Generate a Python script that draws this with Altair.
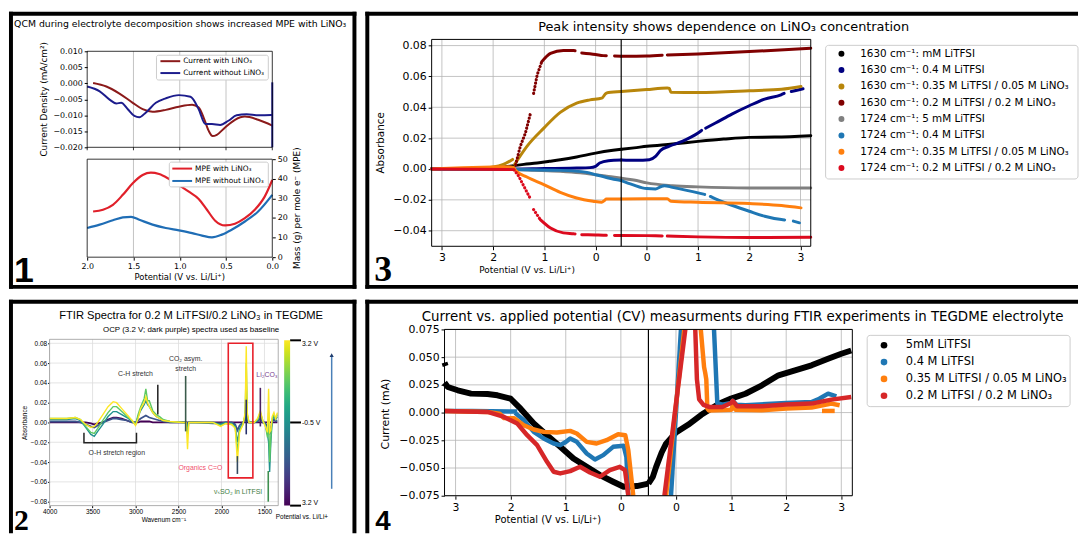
import altair as alt
import pandas as pd

FONT = "DejaVu Sans"
SANS2 = "Liberation Sans, DejaVu Sans"
SERIF = "Liberation Serif, DejaVu Serif"

# ======================= Panel 1 data =======================
P1_X_TICKS = [0.0, 0.5, 1.0, 1.5, 2.0]
P1_GRID = [0.5, 1.0, 1.5]
P1_CUR_TICKS = [-0.020, -0.015, -0.010, -0.005, 0.000, 0.005, 0.010]
P1_MPE_TICKS = [0, 10, 20, 30, 40, 50]
P1_CUR_LABELS = ["Current with LiNO₃", "Current without LiNO₃"]
P1_CUR_COLORS = ["#8b1a1a", "#1c1c8c"]
P1_MPE_LABELS = ["MPE with LiNO₃", "MPE without LiNO₃"]
P1_MPE_COLORS = ["#e0202a", "#1f6db5"]
CUR_WITH = [(1.936, 0.0001), (1.793, -0.001), (1.651, -0.0032), (1.508, -0.0061), (1.401, -0.0081),
            (1.294, -0.0089), (1.151, -0.0083), (1.009, -0.0073), (0.866, -0.0067), (0.795, -0.0076),
            (0.742, -0.0107), (0.688, -0.0148), (0.645, -0.0165), (0.599, -0.0161), (0.510, -0.0138),
            (0.403, -0.0114), (0.296, -0.0104), (0.153, -0.0114), (0.0, -0.0132)]
CUR_WITHOUT = [(2.0, -0.001), (1.865, -0.0025), (1.758, -0.0051), (1.686, -0.0063), (1.633, -0.0061),
               (1.561, -0.0081), (1.490, -0.0102), (1.437, -0.0106), (1.365, -0.0091), (1.258, -0.0061),
               (1.151, -0.0047), (1.009, -0.0037), (0.884, -0.0042), (0.795, -0.0081), (0.724, -0.0127),
               (0.652, -0.0127), (0.563, -0.0130), (0.474, -0.0117), (0.385, -0.0100), (0.278, -0.0097),
               (0.153, -0.0100), (0.011, -0.0099), (0.0, -0.0099)]
CUR_WITHOUT_EDGE = [(0.0, 0.0003), (0.0, -0.0200)]
MPE_WITH = [(1.936, 23.3), (1.829, 24.2), (1.722, 26.7), (1.615, 31.8), (1.508, 37.7), (1.401, 41.9),
            (1.312, 43.1), (1.223, 42.4), (1.116, 39.9), (1.009, 36.8), (0.902, 33.4), (0.795, 29.7),
            (0.706, 24.2), (0.617, 18.6), (0.510, 16.2), (0.403, 17.1), (0.296, 19.9), (0.189, 24.2),
            (0.082, 30.9), (0.0, 39.4)]
MPE_WITHOUT = [(2.0, 14.9), (1.865, 16.6), (1.722, 18.8), (1.615, 20.3), (1.526, 20.6), (1.437, 19.1),
               (1.294, 16.6), (1.151, 14.9), (1.009, 13.7), (0.866, 12.3), (0.759, 11.0), (0.652, 10.1),
               (0.545, 11.5), (0.439, 14.0), (0.296, 18.2), (0.153, 23.3), (0.0, 31.8)]

# ======================= Panel 2 data =======================
P2_W = [4000, 3800, 3700, 3640, 3580, 3520, 3480, 3440, 3380, 3320,
        3260, 3220, 3160, 3100, 3040, 3000, 2970, 2940, 2900, 2880,
        2860, 2840, 2800, 2760, 2720, 2680, 2600, 2450, 2410, 2395,
        2380, 2300, 2100, 2010, 1950, 1880, 1840, 1815, 1790, 1750,
        1725, 1712, 1700, 1680, 1620, 1580, 1548, 1520, 1490, 1465,
        1452, 1440, 1426, 1410, 1390, 1370, 1350]
P2_SPEC_T = [0.0, 0.25, 0.5, 0.75, 1.0]
P2_SPECTRA = [
    [0.000, 0.000, 0.000, 0.000, 0.000, -0.001, -0.002, -0.001, 0.000, 0.003,
     0.005, 0.005, 0.004, 0.002, 0.000, 0.000, 0.000, 0.001, 0.001, 0.001,
     0.001, 0.001, 0.000, 0.000, 0.000, 0.000, 0.000, 0.000, 0.000, 0.000,
     0.000, 0.000, 0.000, 0.000, 0.000, 0.000, 0.000, 0.000, 0.000, 0.000,
     0.000, 0.000, 0.000, 0.000, 0.000, 0.000, 0.000, 0.000, 0.000, 0.000,
     0.000, 0.000, 0.000, 0.000, 0.000, 0.000, 0.000],
    [0.001, 0.001, 0.001, 0.000, -0.002, -0.004, -0.005, -0.003, 0.000, 0.002,
     0.004, 0.004, 0.003, 0.002, 0.000, 0.000, 0.002, 0.004, 0.006, 0.007,
     0.006, 0.005, 0.004, 0.003, 0.002, 0.001, 0.000, 0.000, 0.000, -0.001,
     0.000, 0.000, -0.001, -0.001, 0.000, 0.000, -0.002, -0.008, -0.003, 0.000,
     0.002, 0.018, 0.002, 0.000, 0.000, 0.001, 0.004, 0.000, -0.001, -0.004,
     -0.006, -0.012, -0.006, 0.001, 0.003, 0.001, 0.002],
    [0.003, 0.003, 0.004, 0.002, -0.005, -0.012, -0.014, -0.009, -0.002, 0.006,
     0.011, 0.011, 0.008, 0.005, 0.001, -0.002, 0.006, 0.012, 0.018, 0.022,
     0.018, 0.016, 0.010, 0.006, 0.004, 0.002, 0.001, 0.000, 0.000, -0.004,
     0.000, 0.000, 0.000, -0.002, 0.000, -0.001, -0.004, -0.020, -0.006, -0.001,
     0.006, 0.040, 0.005, 0.000, 0.000, 0.002, 0.008, 0.001, -0.002, -0.012,
     -0.020, -0.050, -0.020, 0.002, 0.006, 0.003, 0.006],
    [0.004, 0.004, 0.005, 0.003, -0.004, -0.010, -0.011, -0.006, 0.002, 0.010,
     0.016, 0.016, 0.011, 0.006, 0.002, -0.002, 0.008, 0.016, 0.024, 0.034,
     0.022, 0.022, 0.012, 0.008, 0.006, 0.003, 0.001, 0.000, 0.000, -0.012,
     0.000, 0.000, 0.000, -0.003, -0.001, -0.002, -0.005, -0.030, -0.008, -0.002,
     0.008, 0.060, 0.008, 0.000, 0.000, 0.003, 0.010, 0.002, -0.003, -0.015,
     0.010, -0.040, -0.015, 0.004, 0.008, 0.004, 0.008],
    [0.004, 0.004, 0.005, 0.003, -0.002, -0.005, -0.004, 0.000, 0.008, 0.016,
     0.021, 0.020, 0.014, 0.008, 0.002, -0.003, 0.004, 0.014, 0.020, 0.026,
     0.020, 0.016, 0.010, 0.006, 0.004, 0.002, 0.001, 0.000, 0.000, -0.027,
     0.000, 0.000, 0.000, -0.004, -0.001, -0.002, -0.006, -0.040, -0.010, -0.002,
     0.010, 0.077, 0.010, 0.000, 0.000, 0.004, 0.012, 0.002, -0.004, -0.010,
     0.034, -0.010, -0.008, 0.006, 0.010, 0.004, 0.010],
]
P2_SPIKES = [(2741, 0.008, 0.038, "#2b2b2b"), (2417, -0.009, 0.047, "#3b5b4b"),
             (1548, -0.004, 0.035, "#4a2060"), (1712, -0.012, 0.023, "#262f6b"),
             (1815, -0.052, -0.034, "#34495e"), (1456, -0.080, -0.049, "#3f8f4f")]
P2_NOTES = [("C-H stretch", 3001, 0.049, "#333333"), ("CO₂ asym.", 2417, 0.0643, "#333333"),
            ("stretch", 2417, 0.0543, "#333333"), ("Li₂CO₃", 1471, 0.048, "#7a3e8e"),
            ("O-H stretch region", 3218, -0.0305, "#333333"), ("Organics C=O", 2246, -0.0456, "#f0506e"),
            ("νₛSO₂ in LiTFSI", 1807, -0.070, "#3c7a3c")]
P2_BRACKET = [(3600, -0.0104), (3600, -0.0204), (2989, -0.0204), (2989, -0.0104)]
P2_BOX = (1921, 1635, -0.056, 0.080)
P2_X_TICKS = [1500, 2000, 2500, 3000, 3500, 4000]
P2_Y_TICKS = [-0.08, -0.06, -0.04, -0.02, 0.0, 0.02, 0.04, 0.06, 0.08]

# ======================= Panel 3 data =======================
SWEEP_TICKS = [0.2, 1.2, 2.2, 3.2, 4.2, 5.2, 6.2, 7.2]
SWEEP_LABELS = "datum.value < 3.7 ? format(3.2 - datum.value, '.0f') : format(datum.value - 4.2, '.0f')"
P3_Y_TICKS = [-0.04, -0.02, 0.0, 0.02, 0.04, 0.06, 0.08]
P3_LABELS = ["1630 cm⁻¹: mM LiTFSI", "1630 cm⁻¹: 0.4 M LiTFSI",
             "1630 cm⁻¹: 0.35 M LiTFSI / 0.05 M LiNO₃", "1630 cm⁻¹: 0.2 M LiTFSI / 0.2 M LiNO₃",
             "1724 cm⁻¹: 5 mM LiTFSI", "1724 cm⁻¹: 0.4 M LiTFSI",
             "1724 cm⁻¹: 0.35 M LiTFSI / 0.05 M LiNO₃", "1724 cm⁻¹: 0.2 M LiTFSI / 0.2 M LiNO₃"]
P3_COLORS = ["#000000", "#000080", "#b8860b", "#800000", "#808080", "#1f77b4", "#ff7f0e", "#dc0a1e"]
P3_SERIES = [
    [("c", "solid", [(3.2, 0.0), (2.4, 0.0003), (2.0, 0.0006), (1.75, 0.0015), (1.6, 0.0022), (1.4, 0.003),
                     (1.14, 0.0039), (0.9, 0.005), (0.69, 0.006), (0.37, 0.0078), (0.0, 0.0103),
                     (-0.34, 0.0121), (-0.5, 0.0128)]),
     ("a", "solid", [(-0.5, 0.0128), (-0.25, 0.0137), (0.0, 0.0147), (0.5, 0.0162), (1.0, 0.0179),
                     (1.5, 0.0194), (2.0, 0.0205), (2.5, 0.0207), (3.2, 0.0216)])],
    [("c", "solid", [(3.2, 0.0), (1.6, 0.0), (1.0, 0.0003), (0.5, 0.0005), (0.37, 0.0006), (0.11, 0.0009),
                     (0.0, 0.0017), (-0.08, 0.0039), (-0.25, 0.0054), (-0.5, 0.0058)]),
     ("a", "solid", [(-0.5, 0.0058), (-0.2, 0.0056), (0.05, 0.006), (0.17, 0.0082), (0.27, 0.0121),
                     (0.43, 0.0147), (0.69, 0.0179), (1.0, 0.0233), (1.07, 0.025)]),
     ("a", "solid", [(1.15, 0.0265), (1.34, 0.0298), (1.66, 0.0356), (2.0, 0.041), (2.3, 0.0453),
                     (2.62, 0.0481), (2.68, 0.049)]),
     ("a", "solid", [(2.82, 0.0502), (3.01, 0.0517), (3.05, 0.052)])],
    [("c", "solid", [(3.2, 0.0), (2.3, 0.0005), (2.0, 0.0013), (1.8, 0.003), (1.62, 0.0062)]),
     ("c", "solid", [(1.58, 0.003), (1.34, 0.0147), (1.01, 0.0265), (0.69, 0.0367), (0.37, 0.0427),
                     (0.11, 0.0448), (-0.12, 0.0459), (-0.2, 0.049), (-0.25, 0.0496), (-0.5, 0.0502)]),
     ("a", "solid", [(-0.5, 0.0502), (0.0, 0.0515), (0.4, 0.0525), (0.44, 0.0522), (0.47, 0.0498),
                     (1.0, 0.0496), (2.0, 0.0507), (2.63, 0.0517), (3.01, 0.0535)])],
    [("c", "solid", [(3.2, 0.0), (1.6, 0.0)]),
     ("c", "dot", [(1.56, 0.0028), (1.47, 0.0147), (1.37, 0.0233), (1.27, 0.0362)]),
     ("c", "dot", [(1.21, 0.049), (1.14, 0.061), (1.05, 0.0696)]),
     ("c", "solid", [(1.05, 0.0696), (0.88, 0.075), (0.63, 0.0768), (0.43, 0.0768), (0.4, 0.0767)]),
     ("c", "solid", [(0.27, 0.0752), (0.0, 0.0742), (-0.15, 0.0735), (-0.21, 0.0734)]),
     ("c", "solid", [(-0.37, 0.0733), (-0.5, 0.0731)]),
     ("a", "solid", [(-0.5, 0.0731), (0.0, 0.0733), (0.3, 0.0738)]),
     ("a", "solid", [(0.4, 0.0739), (1.0, 0.0746), (2.0, 0.0761), (3.2, 0.0783)])],
    [("c", "solid", [(3.2, 0.0), (1.6, -0.0003), (1.2, -0.0008), (0.69, -0.0015), (0.3, -0.0025),
                     (0.0, -0.0037), (-0.3, -0.005), (-0.5, -0.006)]),
     ("a", "solid", [(-0.5, -0.006), (-0.2, -0.0075), (0.0, -0.009), (0.5, -0.0108), (1.0, -0.0116),
                     (2.0, -0.0123), (3.2, -0.0123)])],
    [("c", "solid", [(3.2, 0.0), (1.6, -0.0004), (0.69, -0.0009), (0.17, -0.0022), (0.0, -0.0037),
                     (-0.25, -0.0058), (-0.5, -0.0075)]),
     ("a", "solid", [(-0.5, -0.0075), (-0.28, -0.0101), (0.0, -0.0127), (0.17, -0.0129), (0.27, -0.0115),
                     (0.34, -0.0108), (0.5, -0.0119), (1.0, -0.0155), (1.13, -0.0165)]),
     ("a", "solid", [(1.24, -0.0178), (1.34, -0.0194), (1.66, -0.0235), (2.0, -0.0274), (2.3, -0.0306),
                     (2.63, -0.0328), (2.69, -0.033)]),
     ("a", "solid", [(2.86, -0.0338), (2.98, -0.0349)])],
    [("c", "solid", [(3.2, 0.0), (2.6, 0.0008), (2.0, 0.0013), (1.7, 0.0015), (1.6, 0.001), (1.56, -0.001),
                     (1.34, -0.0052), (1.01, -0.0101), (0.69, -0.0151), (0.37, -0.0188), (0.05, -0.0209),
                     (-0.12, -0.0216), (-0.17, -0.0205), (-0.21, -0.0194), (-0.5, -0.0194)]),
     ("a", "solid", [(-0.5, -0.0194), (0.0, -0.0193), (0.4, -0.0193), (0.47, -0.0209), (1.0, -0.0216),
                     (2.0, -0.0224), (2.63, -0.0237), (3.01, -0.0252)])],
    [("c", "solid", [(3.2, 0.0), (1.6, -0.0004)]),
     ("c", "dot", [(1.59, -0.0006), (1.5, -0.0047), (1.4, -0.0112), (1.27, -0.0194)]),
     ("c", "dot", [(1.21, -0.0263), (1.08, -0.0328)]),
     ("c", "solid", [(1.08, -0.0328), (0.88, -0.0382), (0.63, -0.0414), (0.43, -0.042), (0.4, -0.0421)]),
     ("c", "solid", [(0.27, -0.0426), (0.0, -0.0428), (-0.15, -0.0429), (-0.21, -0.043)]),
     ("c", "solid", [(-0.37, -0.0431), (-0.5, -0.0431)]),
     ("a", "solid", [(-0.5, -0.0431), (0.0, -0.0432), (0.3, -0.0434)]),
     ("a", "solid", [(0.4, -0.0435), (1.0, -0.044), (2.0, -0.0444), (3.2, -0.0442)])],
]

# ======================= Panel 4 data =======================
P4_Y_TICKS = [-0.075, -0.05, -0.025, 0.0, 0.025, 0.05, 0.075]
P4_LABELS = ["5mM LiTFSI", "0.4 M LiTFSI", "0.35 M LiTFSI / 0.05 M LiNO₃", "0.2 M LiTFSI / 0.2 M LiNO₃"]
P4_COLORS = ["#000000", "#1f77b4", "#ff7f0e", "#d62728"]
P4_WIDTHS = [6, 4.5, 4.5, 4.5]
P4_SERIES = [
    [("c", [(3.2, 0.045), (3.18, 0.042)]),
     ("c", [(3.2, 0.027), (3.14, 0.0231), (2.96, 0.0201), (2.72, 0.0171), (2.42, 0.0168), (2.24, 0.0156),
            (2.0, 0.0125), (1.82, 0.0035), (1.58, -0.0099), (1.34, -0.0204), (1.10, -0.0309), (0.86, -0.0414),
            (0.62, -0.0489), (0.38, -0.0564), (0.14, -0.0624), (-0.05, -0.0669), (-0.29, -0.0663), (-0.5, -0.064)]),
     ("a", [(-0.5, -0.064), (-0.42, -0.058), (-0.36, -0.049), (-0.26, -0.036), (-0.18, -0.028), (0.0, -0.018),
            (0.22, -0.011), (0.46, -0.002), (0.78, 0.008), (1.0, 0.0126), (1.26, 0.017), (1.56, 0.0246),
            (1.86, 0.0336), (2.16, 0.0381), (2.46, 0.0426), (2.76, 0.0486), (3.0, 0.0531), (3.18, 0.056)])],
    [("c", [(3.2, 0.0015), (2.7, 0.0015), (2.0, 0.0009), (1.88, 0.0009)]),
     ("c", [(1.92, -0.0003), (1.76, -0.0069), (1.58, -0.0174), (1.40, -0.0234), (1.22, -0.0279), (1.10, -0.0294),
            (1.0, -0.0265), (0.92, -0.0234), (0.8, -0.0264), (0.62, -0.0369), (0.47, -0.0423), (0.32, -0.0384),
            (0.14, -0.0309), (-0.05, -0.0300), (-0.1, -0.0400), (-0.135, -0.075)]),
     ("a", [(-0.09, -0.075), (0.09, 0.075)]),
     ("a", [(0.69, 0.075), (0.75, 0.0085), (0.84, 0.0072), (1.0, 0.0087), (1.03, 0.0105), (1.1, 0.007),
            (1.26, 0.0066), (2.0, 0.0087), (2.46, 0.0096), (2.6, 0.0125), (2.76, 0.0171), (2.91, 0.0147)])],
    [("c", [(3.2, 0.0015), (2.42, 0.0006), (2.2, -0.001), (2.12, -0.005), (1.94, -0.005), (1.76, -0.0114),
            (1.58, -0.0153), (1.40, -0.0174), (1.16, -0.018), (0.92, -0.0165), (0.8, -0.0189), (0.62, -0.0264),
            (0.44, -0.0279), (0.26, -0.0249), (0.05, -0.0195), (-0.08, -0.0204), (-0.135, -0.0339),
            (-0.225, -0.075)]),
     ("a", [(-0.18, -0.075), (0.15, 0.075)]),
     ("a", [(0.45, 0.075), (0.51, 0.041), (0.53, 0.036), (0.55, 0.03), (0.57, 0.0036), (0.6, 0.0018),
            (1.0, 0.0025), (1.03, 0.006), (1.08, 0.0025), (1.56, 0.0021), (2.0, 0.0036), (2.46, 0.0045),
            (2.82, 0.0081), (2.97, 0.0066)]),
     ("a", [(2.65, 0.0015), (2.88, 0.0015)])],
    [("c", [(3.2, 0.0015), (2.42, 0.0006), (2.12, -0.0039), (1.88, -0.0099), (1.70, -0.0204), (1.52, -0.0294),
            (1.34, -0.0444), (1.22, -0.0534), (1.10, -0.0549), (0.92, -0.0528), (0.74, -0.0489), (0.56, -0.054),
            (0.38, -0.0579), (0.2, -0.0519), (0.02, -0.0489), (-0.075, -0.0519), (-0.135, -0.075)]),
     ("a", [(-0.21, -0.075), (0.17, 0.075)]),
     ("a", [(0.35, 0.075), (0.38, 0.03), (0.42, 0.012), (0.5, 0.007), (0.6, 0.0051), (0.84, 0.0051),
            (1.0, 0.0087), (1.03, 0.0105), (1.11, 0.0057), (1.56, 0.0057), (2.0, 0.0072), (2.46, 0.0081),
            (2.82, 0.0117), (3.18, 0.0141)])],
]

# ======================= helpers =======================
ONE = pd.DataFrame({"k": [0]})


def vrect(x, x2, y, y2, color="black"):
    return alt.Chart(ONE).mark_rect(color=color).encode(
        x=alt.value(x), x2=alt.value(x2), y=alt.value(y), y2=alt.value(y2))


def vbox(x, x2, y, y2, color="black", width=0.8, fill="transparent", radius=0):
    return alt.Chart(ONE).mark_rect(fill=fill, stroke=color, strokeWidth=width, cornerRadius=radius).encode(
        x=alt.value(x), x2=alt.value(x2), y=alt.value(y), y2=alt.value(y2))


def vtext(txt, x, y, size, font=FONT, weight="normal", align="left", baseline="middle", color="black"):
    return alt.Chart(ONE).mark_text(text=txt, font=font, fontSize=size, fontWeight=weight, align=align,
                                    baseline=baseline, color=color).encode(x=alt.value(x), y=alt.value(y))


def frame(w, h, sides, t=4, right_end=None):
    out = []
    top_w = right_end if right_end is not None else w
    if "t" in sides:
        out.append(vrect(0, top_w, 0, t))
    if "b" in sides:
        out.append(vrect(0, top_w, h - t, h))
    if "l" in sides:
        out.append(vrect(0, t, 0, h))
    if "r" in sides:
        out.append(vrect(w - t, w, 0, h))
    return out


def vgrid(field, values, enc, y0, y1, color="#b4b4b4", width=0.8):
    return alt.Chart(pd.DataFrame({field: values})).mark_rule(color=color, strokeWidth=width).encode(
        x=enc, y=alt.value(y0), y2=alt.value(y1))


def hgrid(field, values, enc, x0, x1, color="#b4b4b4", width=0.8):
    return alt.Chart(pd.DataFrame({field: values})).mark_rule(color=color, strokeWidth=width).encode(
        y=enc, x=alt.value(x0), x2=alt.value(x1))


def dot_legend(labels, colors, box, sym_x, lab_x, y0, dy, size, dot):
    x0, y0b, x1, y1b = box
    out = [vbox(x0, x1, y0b, y1b, color="#cccccc", width=1, fill="white", radius=3)]
    for i, (lab, col) in enumerate(zip(labels, colors)):
        yy = y0 + dy * i
        out.append(alt.Chart(ONE).mark_circle(size=dot, color=col, opacity=1).encode(
            x=alt.value(sym_x), y=alt.value(yy)))
        out.append(vtext(lab, lab_x, yy, size))
    return out


def line_legend(labels, colors, box, sym_x0, sym_x1, lab_x, y0, dy, size):
    x0, y0b, x1, y1b = box
    out = [vbox(x0, x1, y0b, y1b, color="#cccccc", width=1, fill="white", radius=2)]
    for i, (lab, col) in enumerate(zip(labels, colors)):
        yy = y0 + dy * i
        out.append(alt.Chart(ONE).mark_rule(color=col, strokeWidth=2).encode(
            x=alt.value(sym_x0), x2=alt.value(sym_x1), y=alt.value(yy)))
        out.append(vtext(lab, lab_x, yy, size))
    return out


def sweep(d, v):
    return 3.2 - v if d == "c" else v + 4.2


# ======================= Panel 1 (frame 351 x 280) =======================
W1, H1 = 351, 280


def p1_rows(label, segs, yname):
    rows = []
    for gi, pts in enumerate(segs):
        for k, (a, b) in enumerate(pts):
            rows.append({"series": label, "seg": f"{label}|{gi}", "i": k, "V": a, yname: b})
    return rows


cur_df = pd.DataFrame(p1_rows(P1_CUR_LABELS[0], [CUR_WITH], "cur") +
                      p1_rows(P1_CUR_LABELS[1], [CUR_WITHOUT, CUR_WITHOUT_EDGE], "cur"))
mpe_df = pd.DataFrame(p1_rows(P1_MPE_LABELS[0], [MPE_WITH], "mpe") +
                      p1_rows(P1_MPE_LABELS[1], [MPE_WITHOUT], "mpe"))

X1 = alt.X("V:Q", scale=alt.Scale(domain=[0, 2], range=[266, 79], nice=False, zero=False),
           axis=alt.Axis(values=P1_X_TICKS, format=".1f", title="Potential (V vs. Li/Li⁺)", grid=False,
                         domain=False, tickSize=3, labelFontSize=8, titleFontSize=8.5, labelFlush=False,
                         labelPadding=2, titlePadding=3, offset=-32, titleX=172))

p1_top = alt.Chart(cur_df).mark_line(strokeWidth=2, interpolate="monotone").encode(
    x=X1,
    y=alt.Y("cur:Q", scale=alt.Scale(domain=[-0.02, 0.010], range=[137, 40], nice=False, zero=False),
            axis=alt.Axis(orient="left", values=P1_CUR_TICKS, format=".3f", title="Current Density (mA/cm²)",
                          titleY=88, grid=False, domain=False, tickSize=3, labelFontSize=8,
                          titleFontSize=9, titlePadding=4, labelFlush=False, offset=-79)),
    color=alt.Color("series:N", scale=alt.Scale(domain=P1_CUR_LABELS, range=P1_CUR_COLORS), legend=None),
    detail="seg:N", order="i:Q")

p1_bot = alt.Chart(mpe_df).mark_line(strokeWidth=2.2, interpolate="monotone").encode(
    x=X1,
    y=alt.Y("mpe:Q", scale=alt.Scale(domain=[0, 50], range=[248, 149], nice=False, zero=False),
            axis=alt.Axis(orient="right", values=P1_MPE_TICKS, format="d", title="Mass (g) per mole e⁻ (MPE)",
                          titleY=198, titleAngle=270, titleBaseline="top", grid=False, domain=False, tickSize=3,
                          labelFontSize=8, titleFontSize=9, titlePadding=5, labelFlush=False, offset=-85)),
    color=alt.Color("series:N", scale=alt.Scale(domain=P1_MPE_LABELS, range=P1_MPE_COLORS), legend=None),
    detail="seg:N", order="i:Q")

p1_layers = [
    vgrid("V", P1_GRID, X1, 40, 137), vgrid("V", P1_GRID, X1, 149, 248),
    p1_top, p1_bot,
    vbox(79, 266, 40, 137), vbox(79, 266, 149, 248),
    vgrid("V", P1_X_TICKS, X1, 137, 140, color="black"),
] + line_legend(P1_CUR_LABELS, P1_CUR_COLORS, (149, 44, 262, 69), 153, 173, 176, 50, 12, 7.5) \
  + line_legend(P1_MPE_LABELS, P1_MPE_COLORS, (162, 152, 262, 177), 165, 185, 188, 158.5, 12.5, 7.5) + [
    vtext("QCM during electrolyte decomposition shows increased MPE with LiNO₃", 173, 12, 9.4, align="center"),
    vtext("1", 5, 273, 36, font=SANS2, weight="bold", baseline="alphabetic"),
] + frame(W1, H1, "tblr")

p1 = alt.layer(*p1_layers).resolve_scale(y="independent", color="independent").properties(width=W1, height=H1)

# ======================= Panel 2 (frame 351 x 236) =======================
W2, H2 = 351, 236
spec_rows = []
for si, (t, vals) in enumerate(zip(P2_SPEC_T, P2_SPECTRA)):
    for w, v in zip(P2_W, vals):
        spec_rows.append({"spec": si, "t": t, "W": w, "v": v})
spec_df = pd.DataFrame(spec_rows)

X2 = alt.X("W:Q", scale=alt.Scale(domain=[1340, 4000], range=[272, 41], nice=False, zero=False),
           axis=alt.Axis(values=P2_X_TICKS, format="d", title="Wavenum cm⁻¹", labelFontSize=6.5, titleFontSize=6.5,
                         tickSize=2, labelPadding=1, titlePadding=2, grid=False, labelFlush=False, domain=False,
                         labelFont=SANS2, titleFont=SANS2, offset=-28, titleX=156))
Y2 = alt.Y("v:Q", scale=alt.Scale(domain=[-0.084, 0.084], range=[208, 40], nice=False, zero=False),
           axis=alt.Axis(values=P2_Y_TICKS, format=".2f", title="Absorbance", labelFontSize=6.5, titleFontSize=6.5,
                         tickSize=2, labelPadding=1, titlePadding=3, grid=False, domain=False,
                         labelFont=SANS2, titleFont=SANS2, offset=-41, titleY=124, labelFlush=False))
C2 = alt.Color("t:Q", scale=alt.Scale(scheme="viridis", domain=[0, 1]),
               legend=alt.Legend(type="gradient", orient="none", legendX=270, legendY=41, direction="vertical",
                                 padding=0, gradientLength=167, gradientThickness=6, gradientStrokeWidth=0,
                                 values=[0, 0.5, 1], labelExpr="datum.value == 0.5 ? '-0.5 V' : '3.2 V'",
                                 labelFontSize=7, labelFont=SANS2, labelOffset=12,
                                 title="Potential vs. Li/Li+", titleOrient="bottom", titleFontSize=6.5,
                                 titleFont=SANS2, titleFontWeight="normal", titlePadding=9, titleAnchor="middle"))

p2_layers = [vgrid("W", P2_X_TICKS, X2, 40, 208, color="#dddddd"),
             hgrid("v", P2_Y_TICKS, Y2, 41, 272, color="#dddddd")]
for si in range(len(P2_SPECTRA)):
    p2_layers.append(alt.Chart(spec_df[spec_df["spec"] == si]).mark_line(
        strokeWidth=1.8 if si < 2 else 1.4).encode(x=X2, y=Y2, color=C2))
for (w, lo, hi, col) in P2_SPIKES:
    p2_layers.append(alt.Chart(pd.DataFrame({"W": [w], "v": [lo], "v2": [hi]})).mark_rule(
        color=col, strokeWidth=1.6).encode(x=X2, y=Y2, y2="v2:Q"))
bracket_df = pd.DataFrame({"W": [p[0] for p in P2_BRACKET], "v": [p[1] for p in P2_BRACKET],
                           "i": list(range(len(P2_BRACKET)))})
p2_layers.append(alt.Chart(bracket_df).mark_line(color="#222222", strokeWidth=1.5).encode(x=X2, y=Y2, order="i:Q"))
p2_layers.append(alt.Chart(pd.DataFrame({"W": [P2_BOX[0]], "W2": [P2_BOX[1]], "v": [P2_BOX[2]], "v2": [P2_BOX[3]]}))
                 .mark_rect(fill="transparent", stroke="#e8202a", strokeWidth=1.6)
                 .encode(x=X2, x2="W2:Q", y=Y2, y2="v2:Q"))
for (txt, w, v, col) in P2_NOTES:
    p2_layers.append(alt.Chart(pd.DataFrame({"W": [w], "v": [v], "label": [txt]})).mark_text(
        font=SANS2, fontSize=7, color=col).encode(x=X2, y=Y2, text="label:N"))
for yy in [41, 124, 208]:
    p2_layers.append(alt.Chart(ONE).mark_rule(color="black", strokeWidth=2).encode(
        x=alt.value(284), x2=alt.value(295), y=alt.value(yy)))
p2_layers.append(alt.Chart(ONE).mark_rule(color="#4a80b8", strokeWidth=1.5).encode(
    x=alt.value(326), y=alt.value(56), y2=alt.value(191)))
p2_layers.append(alt.Chart(ONE).mark_point(shape="triangle-up", filled=True, size=18, color="#1f3c6e",
                                           opacity=1).encode(x=alt.value(326), y=alt.value(56)))
p2_layers += [
    vbox(41, 272, 40, 208, color="#999999"),
    vtext("FTIR Spectra for 0.2 M LiTFSI/0.2 LiNO₃ in TEGDME", 184, 16, 11.3, font=SANS2, align="center"),
    vtext("OCP (3.2 V; dark purple) spectra used as baseline", 184, 31, 8, font=SANS2, align="center"),
    vtext("2", 5, 233, 30, font=SERIF, weight="bold", baseline="alphabetic"),
] + frame(W2, H2, "tlr")

p2 = alt.layer(*p2_layers).properties(width=W2, height=H2)

# ======================= Panel 3 (frame, visible part 720 x 280) =======================
W3, H3 = 713, 280
rows3 = []
for si, segs in enumerate(P3_SERIES):
    for gi, (d, style, pts) in enumerate(segs):
        for k, (v, a) in enumerate(pts):
            rows3.append({"series": P3_LABELS[si], "seg": f"{si}-{gi}", "style": style, "i": k,
                          "s": sweep(d, v), "A": a})
df3 = pd.DataFrame(rows3)

X3 = alt.X("s:Q", scale=alt.Scale(domain=[0, 7.4], range=[67, 450], nice=False, zero=False),
           axis=alt.Axis(values=SWEEP_TICKS, labelExpr=SWEEP_LABELS, title="Potential (V vs. Li/Li⁺)", titleX=163,
                         titleFontSize=9, labelFontSize=11, tickSize=3.5, labelPadding=2, titlePadding=3,
                         labelFlush=False, domain=False, grid=False, offset=-43))
Y3 = alt.Y("A:Q", scale=alt.Scale(domain=[-0.0501, 0.084], range=[237, 28], nice=False, zero=False),
           axis=alt.Axis(values=P3_Y_TICKS, format=".2f", title="Absorbance", titleFontSize=10.5, labelFontSize=11,
                         tickSize=3.5, titlePadding=7, domain=False, grid=False, labelFlush=False,
                         offset=-67, titleY=132))
C3 = alt.Color("series:N", scale=alt.Scale(domain=P3_LABELS, range=P3_COLORS), legend=None)

p3_layers = [vgrid("s", SWEEP_TICKS, X3, 28, 237), hgrid("A", P3_Y_TICKS, Y3, 67, 450)]
for si, lab in enumerate(P3_LABELS):
    sub = df3[df3["series"] == lab]
    solid = sub[sub["style"] == "solid"]
    p3_layers.append(alt.Chart(solid).mark_line(strokeWidth=3, strokeCap="round", strokeJoin="round",
                                                interpolate="monotone").encode(
        x=X3, y=Y3, color=C3, detail="seg:N", order="i:Q"))
    dots = sub[sub["style"] == "dot"]
    if len(dots):
        p3_layers.append(alt.Chart(dots).mark_line(strokeWidth=3.2, strokeCap="round", strokeDash=[0.1, 3.4],
                                                   color=P3_COLORS[si]).encode(
            x=X3, y=Y3, detail="seg:N", order="i:Q"))
p3_layers.append(alt.Chart(pd.DataFrame({"s": [3.7]})).mark_rule(color="black", strokeWidth=1.2).encode(
    x=X3, y=alt.value(28), y2=alt.value(237)))
p3_layers += [vbox(67, 450, 28, 237, width=1)]
p3_layers += dot_legend(P3_LABELS, P3_COLORS, (465, 34, 720, 169), 481, 500, 42.5, 16.5, 10.5, 36)
p3_layers += [
    vtext("Peak intensity shows dependence on LiNO₃ concentration", 362, 16, 13, align="center"),
    vtext("3", 9, 272, 36, font=SERIF, weight="bold", baseline="alphabetic"),
] + frame(W3, H3, "tbl", right_end=720)

p3 = alt.layer(*p3_layers).properties(width=W3, height=H3)

# ======================= Panel 4 (frame 713 x 236) =======================
W4, H4 = 713, 236
rows4 = []
for si, segs in enumerate(P4_SERIES):
    for gi, (d, pts) in enumerate(segs):
        for k, (v, c) in enumerate(pts):
            rows4.append({"series": P4_LABELS[si], "seg": f"{si}-{gi}", "i": k, "s": sweep(d, v), "I": c})
df4 = pd.DataFrame(rows4)

X4 = alt.X("s:Q", scale=alt.Scale(domain=[0, 7.4], range=[80, 492], nice=False, zero=False),
           axis=alt.Axis(values=SWEEP_TICKS, labelExpr=SWEEP_LABELS, title="Potential (V vs. Li/Li⁺)", titleX=184,
                         titleFontSize=10, labelFontSize=11, tickSize=3.5, labelPadding=2, titlePadding=3,
                         labelFlush=False, domain=False, grid=False, offset=-38))
Y4 = alt.Y("I:Q", scale=alt.Scale(domain=[-0.075, 0.075], range=[198, 30], nice=False, zero=False),
           axis=alt.Axis(values=P4_Y_TICKS, format=".3f", title="Current (mA)", titleFontSize=11, labelFontSize=11,
                         tickSize=3.5, titlePadding=8, domain=False, grid=False, labelFlush=False,
                         offset=-80, titleY=115))
C4 = alt.Color("series:N", scale=alt.Scale(domain=P4_LABELS, range=P4_COLORS), legend=None)

p4_layers = [vgrid("s", SWEEP_TICKS, X4, 30, 198), hgrid("I", P4_Y_TICKS, Y4, 80, 492)]
for si, lab in enumerate(P4_LABELS):
    part = df4[df4["series"] == lab]
    p4_layers.append(alt.Chart(part).mark_line(strokeWidth=P4_WIDTHS[si], strokeJoin="round").encode(
        x=X4, y=Y4, color=C4, detail="seg:N", order="i:Q"))
p4_layers.append(alt.Chart(pd.DataFrame({"s": [3.7]})).mark_rule(color="black", strokeWidth=1.2).encode(
    x=X4, y=alt.value(30), y2=alt.value(198)))
p4_layers += [vbox(80, 492, 30, 198, width=1)]
p4_layers += dot_legend(P4_LABELS, P4_COLORS, (507, 36, 712, 108), 524, 546, 46, 17, 11.5, 45)
p4_layers += [
    vtext("Current vs. applied potential (CV) measurments during FTIR experiments in TEGDME electrolyte",
          57, 17, 13.5),
    vtext("4", 10, 233, 28, font=SANS2, weight="bold", baseline="alphabetic"),
] + frame(W4, H4, "tl", right_end=720)

p4 = alt.layer(*p4_layers).properties(width=W4, height=H4)

# ======================= assemble =======================
chart = alt.vconcat(
    alt.hconcat(p1, p3, spacing=7),
    alt.hconcat(p2, p4, spacing=7),
    spacing=9,
).properties(padding=0, background="white").configure_axis(
    labelColor="black", titleColor="black", tickColor="black", domainColor="black",
    titleFontWeight="normal", labelFont=FONT, titleFont=FONT,
).configure_view(stroke="transparent")

chart.save("out.html", embed_options={"renderer": "svg", "actions": False})
